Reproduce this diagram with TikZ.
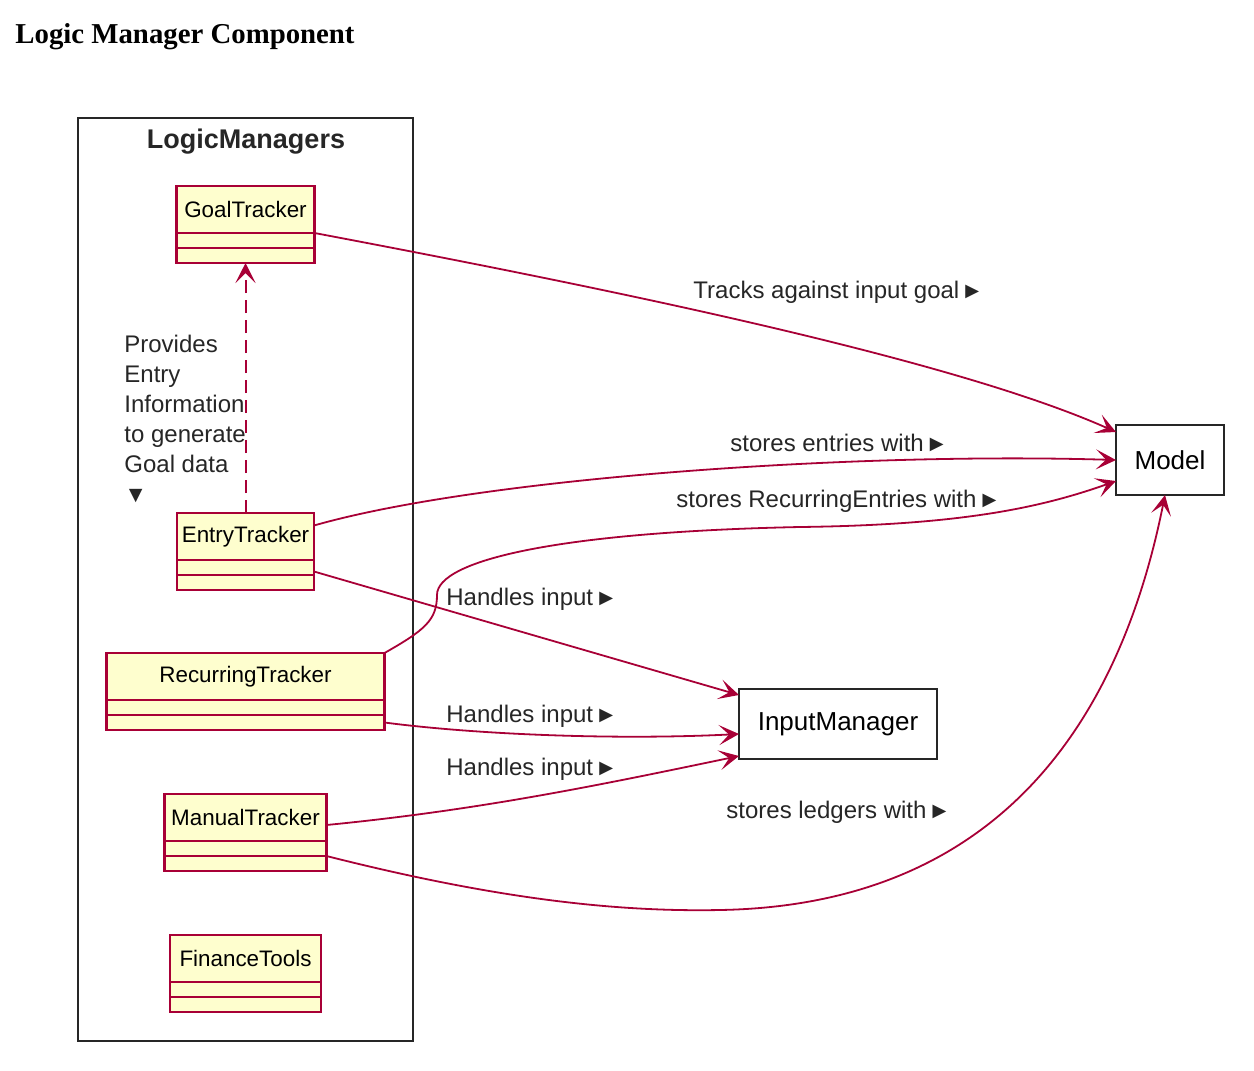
\documentclass[tikz,border=0pt]{standalone}
\usepackage{fontspec}
\setmainfont{Liberation Sans}
\newfontfamily\titlefont{Liberation Serif}
\usepackage{xcolor}
\usepackage{tikz}
\usetikzlibrary{positioning, arrows.meta}
\definecolor{umlred}{HTML}{A80036}
\definecolor{umlfill}{HTML}{FEFECE}
\newcommand{\rtri}{\hspace{0.8pt}{\fontsize{11.5}{11.5}\selectfont ►}}
\newcommand{\dtri}{{\fontsize{11.5}{11.5}\selectfont ▼}}

\begin{document}
\begin{tikzpicture}
        [
        x=0.5pt, y=-0.5pt,
        cls/.style = {draw=umlred, fill=umlfill, line width=1.1pt, inner sep=0pt, outer sep=0pt,
                      minimum height=23.5pt, font=\fontsize{11.2}{13}\selectfont},
        clspart/.style = {draw=umlred, fill=umlfill, line width=1.1pt, inner sep=0pt, outer sep=0pt,
                          minimum height=7.5pt},
        pkg/.style = {draw=black!85, line width=1.3pt, inner sep=0pt, outer sep=0pt},
        box/.style = {draw=black!85, fill=white, line width=1.3pt, inner sep=0pt, outer sep=0pt,
                      minimum width=54pt, minimum height=35pt, font=\fontsize{13}{15}\selectfont},
        lbl/.style = {anchor=west, inner sep=0pt, text=black!85, font=\fontsize{12}{15}\selectfont},
        uses/.style = {draw=umlred, line width=0.9pt, -{Stealth[length=10pt, width=10pt, inset=5pt]}}
        ]
    \useasboundingbox (0,0) rectangle (1254,1071);

    \node[anchor=base west, inner sep=0pt, font=\titlefont\bfseries\fontsize{14.4}{17}\selectfont] (title) at (15,43) {Logic Manager Component};

    % package frame
    \node[pkg, minimum width=167.5pt, minimum height=461.5pt] (pkg) at (245.5,579.5) {};
    \node[font=\bfseries\fontsize{13.5}{15}\selectfont, text=black!85] (pkgname) at (246,142) {LogicManagers};

    % classes
    \node[cls, minimum width=69pt] (goal) at (245.5,209.5) {GoalTracker};
    \node[clspart, minimum width=69pt, below=0pt of goal] (goala) {};
    \node[clspart, minimum width=69pt, below=0pt of goala] (goalb) {};

    \node[cls, minimum width=68.5pt, below=125pt of goalb] (entry) {EntryTracker};
    \node[clspart, minimum width=68.5pt, below=0pt of entry] (entrya) {};
    \node[clspart, minimum width=68.5pt, below=0pt of entrya] (entryb) {};

    \node[cls, minimum width=139pt, below=31.5pt of entryb] (recurring) {RecurringTracker};
    \node[clspart, minimum width=139pt, below=0pt of recurring] (recurringa) {};
    \node[clspart, minimum width=139pt, below=0pt of recurringa] (recurringb) {};

    \node[cls, minimum width=81pt, below=32pt of recurringb] (manual) {ManualTracker};
    \node[clspart, minimum width=81pt, below=0pt of manual] (manuala) {};
    \node[clspart, minimum width=81pt, below=0pt of manuala] (manualb) {};

    \node[cls, minimum width=75.5pt, below=32pt of manualb] (finance) {FinanceTools};
    \node[clspart, minimum width=75.5pt, below=0pt of finance] (financea) {};
    \node[clspart, minimum width=75.5pt, below=0pt of financea] (financeb) {};

    \node[box] (model) at (1170,460) {Model};
    \node[box, minimum width=99pt] (input) at (838,724) {InputManager};

    % connectors
    \draw[uses, line width=1pt, dash pattern=on 6.5pt off 3.5pt] (entry.north) -- (goalb.south);
    \draw[uses] (goala.north east) .. controls (600,287) and (950,358) .. ([yshift=-3.5pt]model.north west);
    \draw[uses] ([yshift=5.5pt]entry.east) .. controls (480,478) and (850,452) .. (model.west);
    \draw[uses] (recurring.north east) .. controls (425,630) and (437,620) .. (437,595)
        .. controls (437,560) and (560,532) .. (800,527)
        .. controls (960,525) and (1040,508) .. ([yshift=-10.5pt]model.west);
    \draw[uses] ([yshift=-2pt]entrya.east) -- ([yshift=-3pt]input.north west);
    \draw[uses] (recurringb.east) .. controls (480,735) and (620,740) .. ([yshift=-5pt]input.west);
    \draw[uses] ([yshift=-3.75pt]manual.east) .. controls (480,810) and (600,785) .. ([yshift=1.5pt]input.south west);
    \draw[uses] (manualb.north east) .. controls (500,900) and (620,912) .. (720,910)
        .. controls (1000,905) and (1120,720) .. ([xshift=-2.5pt]model.south);

    % labels
    \node[lbl, anchor=north west, align=left] (providelbl) at (124,335)
        {Provides\\Entry\\Information\\to generate\\Goal data\\\dtri};
    \node[lbl] (goallbl) at (693,292) {Tracks against input goal\rtri};
    \node[lbl] (entrylbl) at (730,443) {stores entries with\rtri};
    \node[lbl] (recurlbl) at (676,501) {stores RecurringEntries with\rtri};
    \node[lbl] (inputlbl) at (446,599) {Handles input\rtri};
    \node[lbl] (inputlblb) at (446,716) {Handles input\rtri};
    \node[lbl] (inputlblc) at (446,769) {Handles input\rtri};
    \node[lbl] (ledgerlbl) at (726,812) {stores ledgers with\rtri};
\end{tikzpicture}
\end{document}
